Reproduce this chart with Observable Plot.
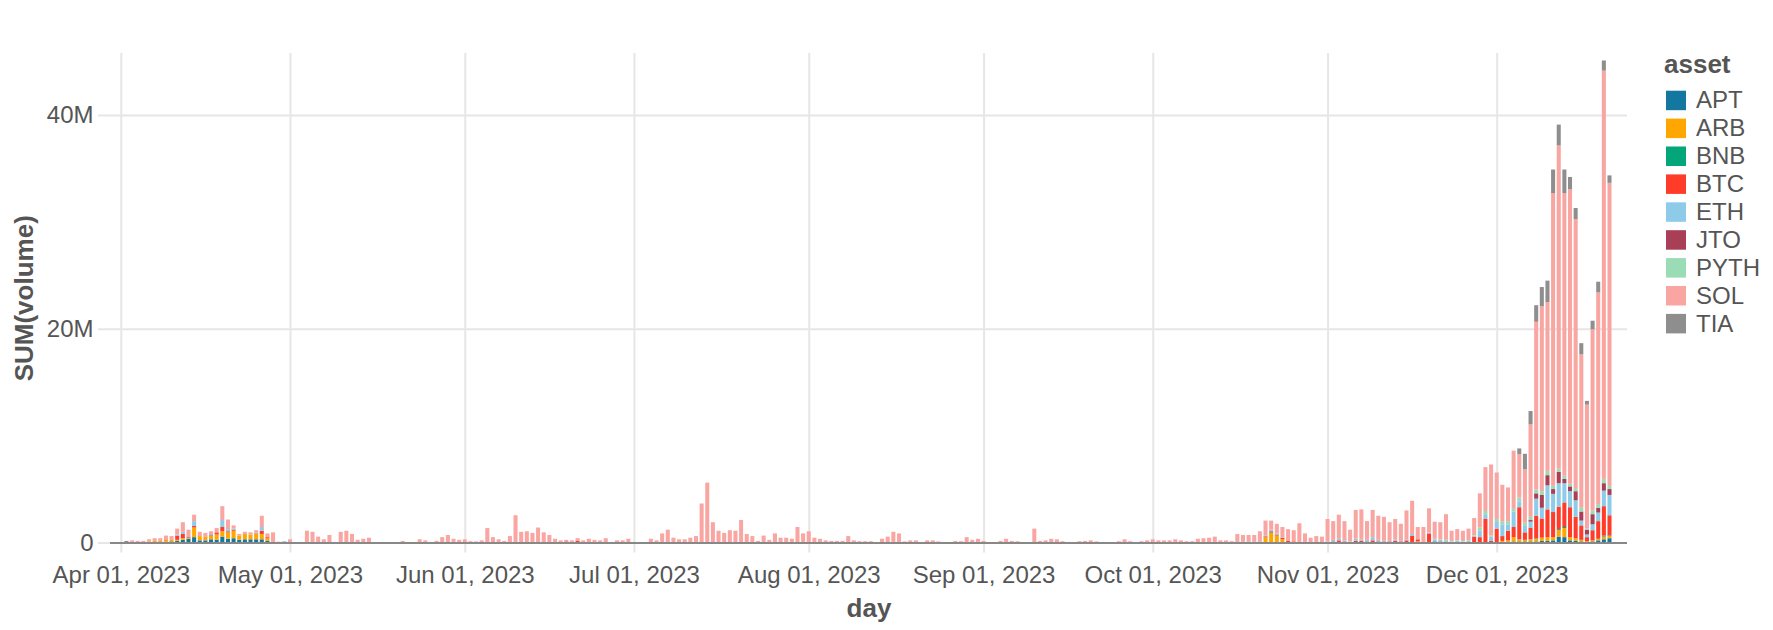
<!DOCTYPE html>
<html>
<head>
<meta charset="utf-8">
<script src="https://cdn.jsdelivr.net/npm/d3@7"></script>
<script src="https://cdn.jsdelivr.net/npm/@observablehq/plot@0.6"></script>
<style>
  html, body { margin: 0; padding: 0; background: #fff; }
  #wrap { position: relative; width: 1773px; height: 630px; overflow: hidden; }
  #legend { position: absolute; left: 0; top: 0; pointer-events: none; }
</style>
</head>
<body>
<div id="wrap"></div>
<script>
// ---- data (volume in millions, one value per day starting at firstDay) ----
const firstDay = "2023-04-02";
const assets = ["APT", "ARB", "BNB", "BTC", "ETH", "JTO", "PYTH", "SOL", "TIA"];
const colors = ["#13779f", "#ffa600", "#03a678", "#ff3b29", "#8ecbe8", "#a83f56", "#9adcb5", "#f9a5a1", "#8e8e8e"];
const monthTicks = ["2023-04-01", "2023-05-01", "2023-06-01", "2023-07-01", "2023-08-01", "2023-09-01", "2023-10-01", "2023-11-01", "2023-12-01"];
const yTicks = [0, 20e6, 40e6];

// blocks: Apr 2-30 (29) | May (31) | Jun (30) | Jul (31) | Aug (31) | Sep (30) | Oct (31) | Nov (30) | Dec 1-21 (21)
const APT = [
  0.12,0,0,0,0.03,0.05,0.05,0.08,0.1, 0.15,0.25,0.35,0.5,0.2,0.2,0.3,0.25,0.55,0.35, 0.4,0.25,0.3,0.3,0.3,0.3,0.15,0,0,0.08,
  0,0,0,0,0,0,0,0,0,0, 0,0,0,0,0,0,0,0,0,0, 0,0,0,0,0,0,0,0,0,0,0,
  0,0,0,0,0,0,0,0,0,0, 0,0,0,0,0,0,0,0,0,0, 0,0,0,0,0,0,0,0,0,0,
  0,0,0,0,0,0,0,0,0,0, 0,0,0,0,0,0,0,0,0,0, 0,0,0,0,0,0,0,0,0,0,0,
  0,0,0,0,0,0,0,0,0,0, 0,0,0,0,0,0,0,0,0,0, 0,0,0,0,0,0,0,0,0,0,0,
  0,0,0,0,0,0,0,0,0,0, 0,0,0,0,0,0,0,0,0,0, 0,0,0,0,0,0,0,0,0,0,
  0,0,0,0,0,0,0,0,0,0, 0,0,0,0,0,0,0,0,0,0, 0.03,0,0,0,0,0,0,0,0,0,0,
  0,0,0,0,0,0,0,0,0,0, 0,0,0,0,0,0,0,0,0.05,0.1, 0,0,0,0,0,0,0,0,0,0,
  0.05,0.05,0.05,0.1,0.1,0.1,0.1,0.1,0.15,0.15, 0.2,0.55,0.5,0.2,0.15,0.1,0.05,0.1,0.2,0.3,0.4
];
const ARB = [
  0,0.05,0.03,0.03,0.07,0.1,0.1,0.15,0.2, 0.1,0.15,0.1,0.9,0.4,0.3,0.35,0.5,0.5,0.6, 0.7,0.4,0.5,0.45,0.5,0.5,0.25,0,0,0,
  0,0,0,0,0,0,0,0,0,0, 0,0,0,0,0,0,0,0,0,0, 0,0,0,0,0,0,0,0,0,0,0,
  0,0,0,0,0,0,0,0,0,0, 0,0,0,0,0,0,0,0,0,0, 0,0,0,0,0,0,0,0,0,0,
  0,0,0,0,0,0,0,0,0,0, 0,0,0,0,0,0,0,0,0,0, 0,0,0,0,0,0,0,0,0,0,0,
  0,0,0,0,0,0,0,0,0,0, 0,0,0,0,0,0,0,0,0,0, 0,0,0,0,0,0,0,0,0,0,0,
  0,0,0,0,0,0,0,0,0,0, 0,0,0,0,0,0,0,0,0,0, 0,0,0,0,0,0,0,0,0,0,
  0,0,0,0,0,0,0,0,0,0, 0,0,0,0,0,0,0,0,0,0, 0.45,0.9,0.65,0.3,0,0,0,0,0,0,0,
  0,0,0.05,0,0,0,0,0,0,0, 0,0,0,0,0,0.05,0.1,0,0,0, 0,0,0,0,0,0,0,0,0,0,
  0,0.1,0.15,0.4,0.2,0.15,0.2,0.25,0.3,0.35, 0.3,0.6,0.85,0.3,0.25,0.15,0.05,0.1,0.15,0.25,0.2
];
const BNB = [
  0,0,0,0,0,0,0,0,0, 0,0,0,0,0,0,0,0,0,0, 0,0,0,0,0,0,0,0,0,0,
  0,0,0,0,0,0,0,0,0,0, 0,0,0,0,0,0,0,0,0,0, 0,0,0,0,0,0,0,0,0,0,0,
  0,0,0,0,0,0,0,0,0,0, 0,0,0,0,0,0,0,0,0,0, 0,0,0,0,0,0,0,0,0,0,
  0,0,0,0,0,0,0,0,0,0, 0,0,0,0,0,0,0,0,0,0, 0,0,0,0,0,0,0,0,0,0,0,
  0,0,0,0,0,0,0,0,0,0, 0,0,0,0,0,0,0,0,0,0, 0,0,0,0,0,0,0,0,0,0,0,
  0,0,0,0,0,0,0,0,0,0, 0,0,0,0,0,0,0,0,0,0, 0,0,0,0,0,0,0,0,0,0,
  0,0,0,0,0,0,0,0,0,0, 0,0,0,0,0,0,0,0,0,0, 0,0.05,0,0,0,0,0,0,0,0,0,
  0,0,0,0,0,0,0,0,0,0, 0,0,0,0,0,0,0,0,0,0, 0,0,0,0,0,0,0,0,0,0,
  0,0,0,0,0,0,0,0.05,0,0, 0,0.1,0.1,0,0,0,0,0,0,0.1,0.05
];
const BTC = [
  0,0,0,0,0,0,0,0.05,0, 0.4,0.4,0.1,0.15,0,0.05,0.05,0.2,0.4,0.1, 0.1,0,0,0,0.05,0.3,0.1,0,0,0,
  0,0,0,0.08,0.05,0,0,0,0,0, 0,0,0,0,0,0,0,0,0,0, 0,0,0,0,0,0,0,0,0,0,0,
  0,0,0,0,0,0,0,0,0,0, 0,0,0,0,0,0,0,0,0.1,0, 0.15,0,0,0,0,0,0,0,0,0,
  0,0,0,0,0,0,0,0,0,0, 0,0,0,0,0,0,0,0,0,0, 0,0,0,0,0,0,0,0,0,0,0,
  0,0,0,0,0,0,0,0,0,0, 0,0,0,0,0,0,0,0,0,0, 0,0,0,0,0,0,0,0,0,0,0,
  0,0,0,0,0,0,0,0,0,0, 0,0,0,0,0,0,0,0,0,0, 0,0,0,0,0,0,0,0,0,0,
  0,0,0,0,0,0,0,0,0,0, 0,0,0,0,0,0.08,0.08,0.08,0.08,0.08, 0.1,0.1,0.1,0.15,0.15,0.1,0,0,0,0,0,
  0.05,0.1,0.15,0.1,0.05,0.15,0.15,0.1,0.2,0.1, 0.1,0.1,0.15,0.1,0.2,0.6,0.2,0.05,0.8,0, 0.1,0,0,0.05,0,0.05,0.55,0.5,2.2,0.15,
  1.25,0.45,0.9,0.95,3.0,0.7,1.1,2.1,1.8,2.6, 2.35,2.1,2.3,2.8,2.0,1.35,0.4,0.95,1.65,2.75,1.9
];
const ETH = [
  0,0,0,0,0,0,0,0,0, 0.1,0.2,0.05,0.45,0,0,0.1,0,0.65,0.2, 0.1,0,0,0,0.1,0.35,0,0,0,0,
  0,0,0,0,0,0,0,0,0,0, 0,0,0,0,0,0,0,0,0,0, 0,0,0,0,0,0,0,0,0,0,0,
  0,0,0,0,0,0,0,0,0,0, 0,0,0,0,0,0,0,0,0,0, 0,0,0,0,0,0,0,0,0,0,
  0,0,0,0,0,0,0,0,0,0, 0,0,0,0,0,0,0,0,0,0, 0,0,0,0,0,0,0,0,0,0,0,
  0,0,0,0,0,0,0,0,0,0, 0,0,0,0,0,0,0,0,0,0, 0,0,0,0,0,0,0,0,0,0,0,
  0,0,0,0,0,0,0,0,0,0, 0,0,0,0,0,0,0,0,0,0, 0,0,0,0,0,0,0,0,0,0,
  0,0,0,0,0,0,0,0,0,0, 0,0,0,0,0,0.03,0.03,0.03,0.03,0.03, 0.1,0.15,0.1,0.05,0,0,0,0,0,0,0,
  0.05,0.15,0.2,0.1,0.05,0.2,0.15,0.15,0.3,0.15, 0.1,0.05,0.15,0.05,0.1,0.15,0,0,0.1,0.2, 0.15,0.15,0.1,0.1,0.1,0.1,0.1,0.6,0.45,0.4,
  0.7,1.1,0.6,1.45,0.55,0.6,0.55,1.6,1.0,2.25, 1.7,2.2,1.8,1.5,1.55,0.45,0.25,0.55,0.8,1.45,1.9
];
const JTO = [
  0,0,0,0,0,0,0,0,0, 0,0,0,0,0,0,0,0,0,0, 0,0,0,0,0,0,0,0,0,0,
  0,0,0,0,0,0,0,0,0,0, 0,0,0,0,0,0,0,0,0,0, 0,0,0,0,0,0,0,0,0,0,0,
  0,0,0,0,0,0,0,0,0,0, 0,0,0,0,0,0,0,0,0,0, 0,0,0,0,0,0,0,0,0,0,
  0,0,0,0,0,0,0,0,0,0, 0,0,0,0,0,0,0,0,0,0, 0,0,0,0,0,0,0,0,0,0,0,
  0,0,0,0,0,0,0,0,0,0, 0,0,0,0,0,0,0,0,0,0, 0,0,0,0,0,0,0,0,0,0,0,
  0,0,0,0,0,0,0,0,0,0, 0,0,0,0,0,0,0,0,0,0, 0,0,0,0,0,0,0,0,0,0,
  0,0,0,0,0,0,0,0,0,0, 0,0,0,0,0,0,0,0,0,0, 0,0,0,0,0,0,0,0,0,0,0,
  0,0,0,0,0,0,0,0,0,0, 0,0,0,0,0,0,0,0,0,0, 0,0,0,0,0,0,0,0,0,0,
  0,0,0,0,0,0,0.15,0.5,1.2,0.95, 0.45,1.05,0.4,0.45,0.85,0.85,0.45,0.95,0.45,0.7,0.55
];
const PYTH = [
  0,0,0,0,0,0,0,0,0, 0,0,0,0,0,0,0,0,0,0, 0,0,0,0,0,0,0,0,0,0,
  0,0,0,0,0,0,0,0,0,0, 0,0,0,0,0,0,0,0,0,0, 0,0,0,0,0,0,0,0,0,0,0,
  0,0,0,0,0,0,0,0,0,0, 0,0,0,0,0,0,0,0,0,0, 0,0,0,0,0,0,0,0,0,0,
  0,0,0,0,0,0,0,0,0,0, 0,0,0,0,0,0,0,0,0,0, 0,0,0,0,0,0,0,0,0,0,0,
  0,0,0,0,0,0,0,0,0,0, 0,0,0,0,0,0,0,0,0,0, 0,0,0,0,0,0,0,0,0,0,0,
  0,0,0,0,0,0,0,0,0,0, 0,0,0,0,0,0,0,0,0,0, 0,0,0,0,0,0,0,0,0,0,
  0,0,0,0,0,0,0,0,0,0, 0,0,0,0,0,0,0,0,0,0, 0,0,0,0,0,0,0,0,0,0,0,
  0,0,0,0,0,0,0,0,0,0, 0,0,0,0,0,0,0,0,0,0.05, 0.05,0.1,0.05,0.05,0.05,0.05,0.05,0.3,0.3,0.1,
  0.2,0.25,0.3,0.25,0.35,0.3,0.3,0.35,0.35,0.4, 0.3,0.3,0.3,0.25,0.3,0.35,0.1,0.35,0.35,0.4,0.3
];
const SOL = [
  0.03,0.15,0.12,0.12,0.2,0.25,0.25,0.37,0.3, 0.55,0.9,0.6,0.6,0.4,0.35,0.25,0.4,1.3,0.9, 0.3,0.15,0.2,0.2,0.2,1.05,0.35,0.95,0.08,0,
  0.3,0,0,1.02,0.95,0.55,0.3,0.7,0,1.0, 1.1,0.8,0.25,0.35,0.45,0.05,0.02,0.02,0.02,0.02, 0.15,0.05,0.02,0.3,0.2,0.05,0.15,0.5,0.7,0.35,0.25,
  0.3,0.12,0.1,0.2,1.35,0.5,0.3,0.15,0.6,2.55, 1.0,1.05,0.9,1.4,0.95,0.7,0.35,0.2,0.15,0.2, 0.25,0.2,0.35,0.25,0.2,0.4,0.05,0.2,0.2,0.35,
  0.05,0,0.05,0.35,0.2,0.85,1.2,0.45,0.3,0.3, 0.45,0.6,3.65,5.6,1.9,1.1,0.9,1.15,1.1,2.1, 0.8,0.6,0.15,0.65,0.25,0.85,0.45,0.45,0.35,1.45,0.85,
  1.05,0.45,0.35,0.2,0.15,0.15,0.15,0.6,0.2,0.12, 0.12,0.12,0.03,0.35,0.55,1.0,0.85,0.1,0.2,0.2, 0.03,0.2,0.2,0.1,0.05,0.05,0.15,0.12,0.5,0.25,0.35,
  0.15,0,0.02,0.15,0.35,0.15,0.12,0.05,0,1.3, 0.15,0.2,0.35,0.3,0.12,0.05,0.03,0.12,0.15,0.2, 0.1,0.05,0.02,0.03,0.12,0.3,0.12,0.05,0.12,0.2,
  0.3,0.2,0.2,0.2,0.3,0.2,0.12,0.12,0.35,0.4, 0.45,0.55,0.2,0.2,0.12,0.69,0.59,0.59,0.59,0.94, 1.37,0.85,0.9,0.95,1.1,1.05,1.8,0.85,0.45,0.6,0.55,
  2.1,1.75,2.2,1.8,1.1,2.7,2.8,1.75,2.55,2.25, 2.2,1.75,1.9,1.6,2.7,3.1,1.15,1.4,2.25,1.6, 1.6,2.4,0.95,1.05,0.95,1.1,1.6,3.2,4.1,6.65,
  4.35,3.45,3.15,5.45,4.05,5.0,8.65,15.7,17.3,15.8, 27.4,30.25,26.45,27.55,25.15,14.35,11.6,16.95,19.8,38.2,28.35
];
const TIA = [
  0,0,0,0,0,0,0,0,0, 0,0,0,0,0,0,0,0,0,0, 0,0,0,0,0,0,0,0,0,0,
  0,0,0,0,0,0,0,0,0,0, 0,0,0,0,0,0,0,0,0,0, 0,0,0,0,0,0,0,0,0,0,0,
  0,0,0,0,0,0,0,0,0,0, 0,0,0,0,0,0,0,0,0,0, 0,0,0,0,0,0,0,0,0,0,
  0,0,0,0,0,0,0,0,0,0, 0,0,0,0,0,0,0,0,0,0, 0,0,0,0,0,0,0,0,0,0,0,
  0,0,0,0,0,0,0,0,0,0, 0,0,0,0,0,0,0,0,0,0, 0,0,0,0,0,0,0,0,0,0,0,
  0,0,0,0,0,0,0,0,0,0, 0,0,0,0,0,0,0,0,0,0, 0,0,0,0,0,0,0,0,0,0,
  0,0,0,0,0,0,0,0,0,0, 0,0,0,0,0,0,0,0,0,0, 0,0,0,0,0,0,0,0,0,0,0,
  0,0,0,0,0,0,0,0,0,0, 0,0,0,0,0,0,0,0,0,0, 0,0,0,0,0,0,0,0,0,0,
  0,0,0,0,0.55,1.45,1.25,1.55,1.8,2.0, 2.2,1.95,2.2,1.15,1.05,1.05,0.35,0.8,1.0,0.95,0.7
];

// ---- build long table for the library ----
const series = {APT, ARB, BNB, BTC, ETH, JTO, PYTH, SOL, TIA};
const DAY = 864e5;
const t0 = Date.parse(firstDay + "T00:00:00Z");
const table = [];
for (let i = 0; i < SOL.length; ++i) {
  const t = t0 + i * DAY;
  for (const a of assets) {
    table.push({x1: new Date(t - DAY / 2), x2: new Date(t + DAY / 2), asset: a, volume: series[a][i] * 1e6});
  }
}

const FONT = "'Liberation Sans', Arial, Helvetica, sans-serif";
const TEXT = "#555";
const GRID = "#e6e6e6";
const tickDates = monthTicks.map(d => new Date(d + "T00:00:00Z"));

const chart = Plot.plot({
  width: 1773,
  height: 630,
  marginLeft: 110,
  marginRight: 146,
  marginTop: 53,
  marginBottom: 87.5,
  style: {fontFamily: FONT, fontSize: "24px", color: TEXT, background: "#fff"},
  x: {type: "utc", domain: [new Date("2023-03-30T02:00:00Z"), new Date("2023-12-24T02:30:00Z")]},
  y: {domain: [0, 45.8e6]},
  color: {domain: assets, range: colors},
  marks: [
    Plot.gridX(tickDates, {stroke: GRID, strokeOpacity: 1, strokeWidth: 2}),
    Plot.gridY(yTicks, {stroke: GRID, strokeOpacity: 1, strokeWidth: 2}),
    Plot.axisX(tickDates, {
      tickFormat: d3.utcFormat("%b %d, %Y"), tickSize: 10, tickPadding: 13,
      stroke: GRID, strokeWidth: 2, fill: TEXT, fontSize: 24, label: null
    }),
    Plot.axisY(yTicks, {
      tickFormat: d3.format("~s"), tickSize: 12, tickPadding: 5,
      stroke: GRID, strokeWidth: 2, fill: TEXT, fontSize: 24, label: null
    }),
    Plot.rectY(table, {
      x1: "x1", x2: "x2", y: "volume", fill: "asset", order: assets,
      insetLeft: 0.8, insetRight: 0.8
    }),
    Plot.ruleY([0], {stroke: "#888", strokeWidth: 2}),
    Plot.text(["day"], {text: d => d, frameAnchor: "bottom", dy: 74, fontSize: 26, fontWeight: "bold", fill: TEXT}),
    Plot.text(["SUM(volume)"], {text: d => d, frameAnchor: "left", textAnchor: "middle", dx: -86, rotate: -90, fontSize: 26, fontWeight: "bold", fill: TEXT})
  ]
});
document.getElementById("wrap").appendChild(chart);

// ---- legend ----
const leg = d3.select("#wrap").append("svg")
  .attr("id", "legend").attr("width", 1773).attr("height", 630)
  .style("font-family", FONT);
leg.append("text").attr("x", 1664).attr("y", 72.5)
  .attr("font-size", 26).attr("font-weight", "bold").attr("fill", TEXT).text("asset");
const rows = leg.selectAll("g.row").data(assets).join("g").attr("class", "row")
  .attr("transform", (d, i) => `translate(1666, ${90.7 + i * 27.9})`);
rows.append("rect").attr("width", 20).attr("height", 19.5).attr("fill", (d, i) => colors[i]);
rows.append("text").attr("x", 30).attr("y", 17.6).attr("font-size", 24).attr("fill", TEXT).text(d => d);
</script>
</body>
</html>
